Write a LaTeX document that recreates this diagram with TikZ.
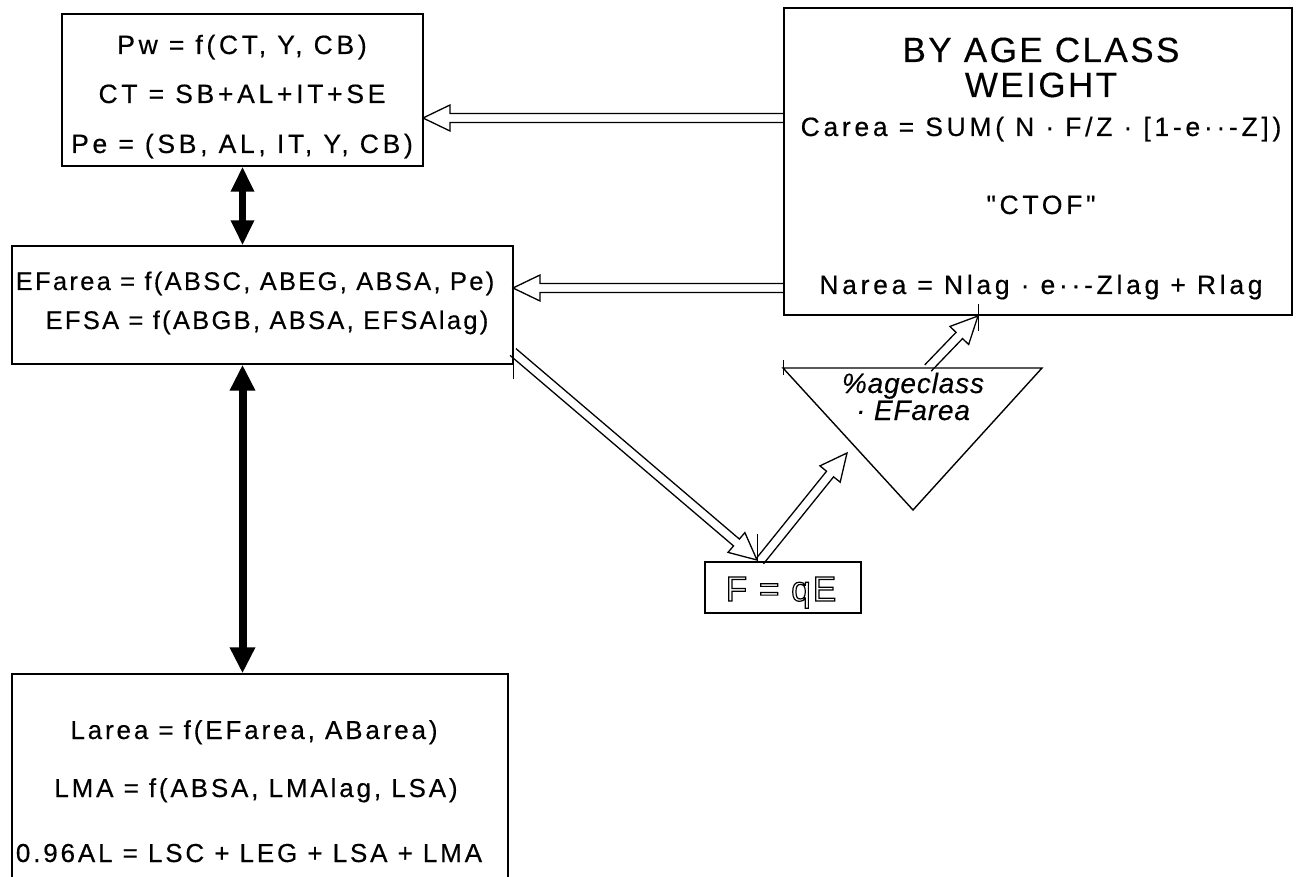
\documentclass[tikz,border=0pt]{standalone}
\usepackage{fontspec}
\setmainfont{Liberation Sans}
\newfontfamily\labA{Liberation Sans}[LetterSpace=14, FakeBold=0.4]
\newfontfamily\labB{Liberation Sans}[LetterSpace=11, FakeBold=0.4]
\newfontfamily\labC{Liberation Sans}[LetterSpace=9, FakeBold=0.4]
\newfontfamily\labw{Liberation Sans}[LetterSpace=7, FakeBold=0.3]
\newfontfamily\labi{Liberation Sans Italic}[LetterSpace=3, FakeBold=0.3]
\newfontfamily\labq{Liberation Sans}[LetterSpace=6]
\usetikzlibrary{calc,arrows.meta}
\tikzset{
  boxline/.style={draw, line width=1.4pt, line join=miter},
  box/.style={boxline, shape=rectangle, inner sep=0pt},
  hollow/.style={draw, line width=1.3pt, line join=miter},
  tick/.style={draw, line width=1pt},
  bidirs/.style={line width=6.5pt, {Triangle[length=25pt,width=22pt]}-{Triangle[length=25pt,width=22pt]}},
  bidirl/.style={line width=8pt, {Triangle[length=26pt,width=24pt]}-{Triangle[length=26pt,width=24pt]}},
  txt/.style={anchor=base, inner sep=0pt, font=\labA\fontsize{26.5}{30}\selectfont},
  txtb/.style={anchor=base, inner sep=0pt, font=\labB\fontsize{26}{30}\selectfont},
  txtm/.style={anchor=base, inner sep=0pt, font=\labC\fontsize{25.5}{30}\selectfont},
  big/.style={anchor=base, inner sep=0pt, font=\labw\fontsize{35}{40}\selectfont},
  itxt/.style={anchor=base, inner sep=0pt, font=\labi\fontsize{28}{32}\selectfont},
  fqtxt/.style={anchor=base, inner sep=0pt, font=\labq\fontsize{35}{40}\selectfont},
}
\newcommand\hollowarrow[2]{%
  \coordinate (hb) at ($(#2)!27pt!(#1)$);
  \draw[hollow] ($(#1)!4.5pt!90:(#2)$) -- ($(hb)!4.5pt!-90:(#1)$) -- ($(hb)!13pt!-90:(#1)$) -- (#2)
    -- ($(hb)!13pt!90:(#1)$) -- ($(hb)!4.5pt!90:(#1)$) -- ($(#1)!4.5pt!-90:(#2)$);
}
\begin{document}
\begin{tikzpicture}[x=1pt,y=-1pt]
\useasboundingbox (0,0) rectangle (1299,877);
\fill[white] (0,0) rectangle (1299,877);

% boxes
\node[box, minimum width=361pt, minimum height=152pt] (tl) at (242.5,90) {};
\node[box, minimum width=501pt, minimum height=118pt] (mid) at (262.5,305) {};
\node[box, minimum width=496pt, minimum height=220pt] (bot) at (260,784) {};
\node[box, minimum width=508pt, minimum height=307pt] (tr) at (1038,161.5) {};
\node[box, minimum width=156pt, minimum height=51pt] (fq) at (783,587.5) {};
\coordinate (t1) at (783,368);
\coordinate (t2) at (1042,368);
\coordinate (t3) at (913,510);
\draw[boxline] (t1) -- (t2) -- (t3) -- cycle;

% texts top-left
\node[txt] (pw) at (242,54) {Pw = f(CT, Y, CB)};
\node[txt] (ct) at (242,103) {CT = SB+AL+IT+SE};
\node[txt] (pe) at (242,153) {Pe = (SB, AL, IT, Y, CB)};
% middle
\node[txtm] (ef) at (255,290) {EFarea = f(ABSC, ABEG, ABSA, Pe)};
\node[txtm] (efsa) at (267,329) {EFSA = f(ABGB, ABSA, EFSAlag)};
% bottom
\node[txtb] (la) at (254,739) {Larea = f(EFarea, ABarea)};
\node[txtb] (lma) at (256,797) {LMA = f(ABSA, LMAlag, LSA)};
\node[txtb] (al) at (249,862) {0.96AL = LSC + LEG + LSA + LMA};
% top-right
\node[big] (by) at (1041,62) {BY AGE CLASS};
\node[big] (wt) at (1041,97) {WEIGHT};
\node[txt] (ca) at (1041,136) {Carea = SUM( N · F/Z · [1-e··-Z])};
\node[txt] (ctof) at (1041,214) {"CTOF"};
\node[txt] (na) at (1041,294) {Narea = Nlag · e··-Zlag + Rlag};
% triangle text
\node[itxt] (ag) at (913,393) {\%ageclass};
\node[itxt] (efa) at (913,420) {· EFarea};
% F = qE
\node[fqtxt] (fqt) at (781,601) {\special{pdf:literal direct 1 Tr 1.2 w}F = qE\special{pdf:literal direct 0 Tr}};

% black double arrows
\draw[bidirs] (tl.south) -- (tl.south |- mid.north);
\draw[bidirl] (tl.south |- mid.south) -- (tl.south |- bot.north);

% hollow arrows
\coordinate (a1s) at (784,118);
\coordinate (a1e) at (423,118);
\coordinate (a2s) at (784,288);
\coordinate (a2e) at (513,288);
\coordinate (a3s) at (513,352);
\coordinate (a3e) at (757,560);
\coordinate (a4s) at (760,561);
\coordinate (a4e) at (847,453);
\coordinate (a5s) at (928,368);
\coordinate (a5e) at (978,316);
\hollowarrow{a1s}{a1e}
\hollowarrow{a2s}{a2e}
\hollowarrow{a3s}{a3e}
\hollowarrow{a4s}{a4e}
\hollowarrow{a5s}{a5e}

% ticks
\draw[tick] (t1) -- ++(0,-8) (t1) -- ++(0,7);
\draw[tick] (mid.south east) -- ++(0,14);
\draw[tick] (fq.north -| a3e) -- ++(0,-27);
\draw[tick] (tr.south -| a5e) -- ++(0,-12) (tr.south -| a5e) -- ++(0,15);
\end{tikzpicture}
\end{document}
